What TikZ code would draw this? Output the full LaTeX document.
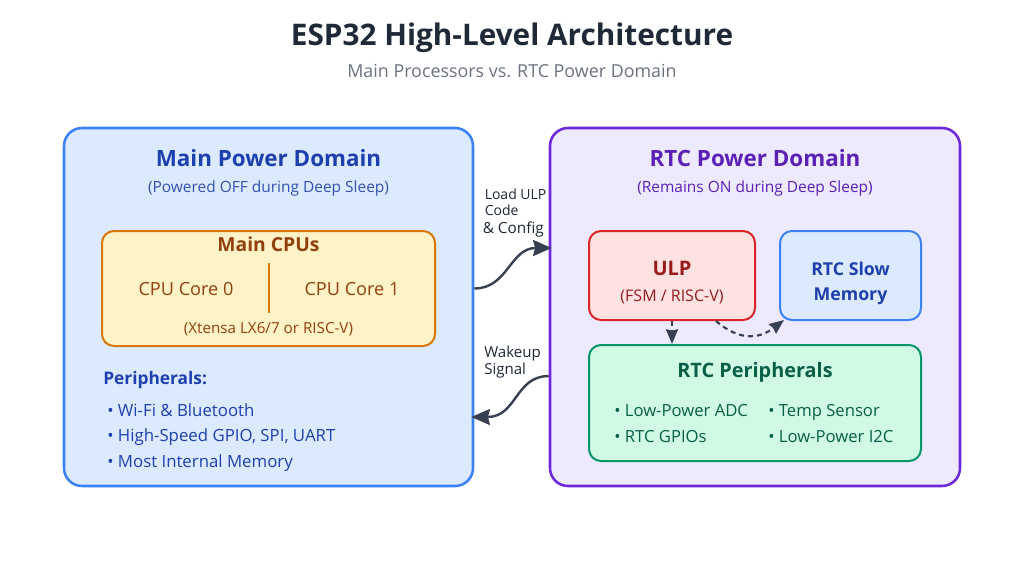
\documentclass[tikz,border=0pt]{standalone}
\usepackage{fontspec}
\setmainfont{Open Sans}
\usetikzlibrary{arrows.meta,calc}
\definecolor{titlec}{HTML}{1F2937}
\definecolor{subc}{HTML}{6B7280}
\definecolor{blueB}{HTML}{3B82F6}
\definecolor{blueF}{HTML}{DBEAFE}
\definecolor{blueT}{HTML}{1E40AF}
\definecolor{blueS}{HTML}{3451B2}
\definecolor{vioB}{HTML}{6D28D9}
\definecolor{vioF}{HTML}{EDE9FE}
\definecolor{vioT}{HTML}{5B21B6}
\definecolor{ambB}{HTML}{D97706}
\definecolor{ambF}{HTML}{FEF3C7}
\definecolor{ambT}{HTML}{92400E}
\definecolor{redB}{HTML}{DC2626}
\definecolor{redF}{HTML}{FEE2E2}
\definecolor{redT}{HTML}{991B1B}
\definecolor{grnB}{HTML}{059669}
\definecolor{grnF}{HTML}{D1FAE5}
\definecolor{grnT}{HTML}{065F46}
\definecolor{arrc}{HTML}{374151}
\newcommand{\fs}[1]{\fontsize{#1}{1.2\dimexpr#1\relax}\selectfont}
\begin{document}
\begin{tikzpicture}[x=0.75pt,y=-0.75pt,
  domainbox/.style={draw, line width=1.9pt, rounded corners=13.5pt, minimum width=#1, minimum height=268.5pt, inner sep=0pt},
  innerbox/.style={draw, line width=1.5pt, rounded corners=9pt, inner sep=0pt},
  txt/.style={inner sep=0pt, anchor=base},
  txtl/.style={inner sep=0pt, anchor=base west},
  flow/.style={draw=arrc, line width=1.8pt, -{Stealth[inset=1.5pt,length=14pt,width=12pt]}},
  dflow/.style={draw=arrc, line width=1.6pt, dash pattern=on 3.75pt off 3pt, -{Stealth[inset=1pt,length=11pt,width=9pt]}}
]
\useasboundingbox (0,0) rectangle (1024,576);
\fill[white] (0,0) rectangle (1024,576);

% titles
\node[txt, text=titlec, font=\fs{22.3pt}\bfseries] (title) at (512,45) {ESP32 High-Level Architecture};
\node[txt, text=subc, font=\fs{13.4pt}] (subtitle) at (512,77) {Main Processors vs. RTC Power Domain};

% domains
\node[domainbox=306.75pt, draw=blueB, fill=blueF] (main) at (268.5,307) {};
\node[domainbox=307.5pt, draw=vioB, fill=vioF] (rtc) at (755,307) {};

\node[txt, text=blueT, font=\fs{16.8pt}\bfseries] (mainT) at (268.5,166.5) {Main Power Domain};
\node[txt, text=blueS, font=\fs{11.6pt}] (mainS) at (268.5,192) {(Powered OFF during Deep Sleep)};
\node[txt, text=vioT, font=\fs{16.8pt}\bfseries] (rtcT) at (755,166.5) {RTC Power Domain};
\node[txt, text=vioT, font=\fs{11.6pt}] (rtcS) at (755,192) {(Remains ON during Deep Sleep)};

% CPU box
\node[innerbox, draw=ambB, fill=ambF, minimum width=249.75pt, minimum height=86.25pt] (cpu) at (268.5,288.5) {};
\node[txt, text=ambT, font=\fs{14.5pt}\bfseries] (cpuT) at (268.5,251.5) {Main CPUs};
\node[txt, text=ambT, font=\fs{13.6pt}] (core0) at (186,295) {CPU Core 0};
\node[txt, text=ambT, font=\fs{13.6pt}] (core1) at (352,295) {CPU Core 1};
\coordinate (divT) at (269,263);
\coordinate (divB) at (269,313);
\draw[ambB, line width=1.2pt] (divT) -- (divB);
\node[txt, text=ambT, font=\fs{11.4pt}] (cpuS) at (268.5,333) {(Xtensa LX6/7 or RISC-V)};

% peripherals list
\node[txtl, text=blueT, font=\fs{13pt}\bfseries] (perT) at (103,384) {Peripherals:};
\node[txtl, text=blueT, font=\fs{12.6pt}] (p1) at (107,416) {\textbullet\ Wi-Fi \& Bluetooth};
\node[txtl, text=blueT, font=\fs{12.6pt}] (p2) at (107,441.7) {\textbullet\ High-Speed GPIO, SPI, UART};
\node[txtl, text=blueT, font=\fs{12.6pt}] (p3) at (107,467.3) {\textbullet\ Most Internal Memory};

% ULP
\node[innerbox, draw=redB, fill=redF, minimum width=124.5pt, minimum height=66.75pt] (ulp) at (672,275.5) {};
\node[txt, text=redT, font=\fs{15pt}\bfseries] (ulpT) at (672,275.7) {ULP};
\node[txt, text=redT, font=\fs{12pt}] (ulpS) at (672,301) {(FSM / RISC-V)};

% Slow memory
\node[innerbox, draw=blueB, fill=blueF, minimum width=105.75pt, minimum height=66.75pt] (slow) at (850.5,275.5) {};
\node[txt, text=blueT, font=\fs{13.3pt}\bfseries] (slowA) at (850.5,275) {RTC Slow};
\node[txt, text=blueT, font=\fs{13.3pt}\bfseries] (slowB) at (850.5,300) {Memory};

% RTC peripherals
\node[innerbox, draw=grnB, fill=grnF, minimum width=249pt, minimum height=87pt] (rtcp) at (755,403) {};
\node[txt, text=grnT, font=\fs{14.9pt}\bfseries] (rtcpT) at (755,377.7) {RTC Peripherals};
\node[txtl, text=grnT, font=\fs{12.5pt}] (r1) at (614,416.7) {\textbullet\ Low-Power ADC};
\node[txtl, text=grnT, font=\fs{12.5pt}] (r2) at (768,416.7) {\textbullet\ Temp Sensor};
\node[txtl, text=grnT, font=\fs{12.5pt}] (r3) at (614,442.7) {\textbullet\ RTC GPIOs};
\node[txtl, text=grnT, font=\fs{12.5pt}] (r4) at (768,442.7) {\textbullet\ Low-Power I2C};

% connectors
\coordinate (loadS) at (main.east |- cpu.center);
\coordinate (loadE) at ($(rtc.west)+(3,-59)$);
\draw[flow] (loadS) .. controls (508,288.5) and (510,248) .. (loadE);
\node[txtl, text=titlec, font=\fs{10.5pt}] (l1) at (484.5,199.3) {Load ULP};
\node[txtl, text=titlec, font=\fs{10.5pt}] (l2) at (484.5,215.7) {Code};
\node[txtl, text=titlec, font=\fs{11.5pt}] (l3) at (482.5,233.3) {\& Config};

\coordinate (wakeS) at ($(rtc.west)+(0,69)$);
\coordinate (wakeE) at ($(main.east)+(-3,110)$);
\draw[flow] (wakeS) .. controls (515,376) and (517,417) .. (wakeE);
\node[txtl, text=titlec, font=\fs{11.3pt}] (w1) at (484,357.3) {Wakeup};
\node[txtl, text=titlec, font=\fs{11.3pt}] (w2) at (484,374) {Signal};

\draw[dflow] (ulp.south) -- (ulp.south |- rtcp.north);
\coordinate (memS) at ($(ulp.south)+(44,0)$);
\coordinate (memE) at ($(slow.south west)+(5,-1)$);
\draw[dflow] (memS) .. controls (738,340) and (758,340) .. (memE);
\end{tikzpicture}
\end{document}
